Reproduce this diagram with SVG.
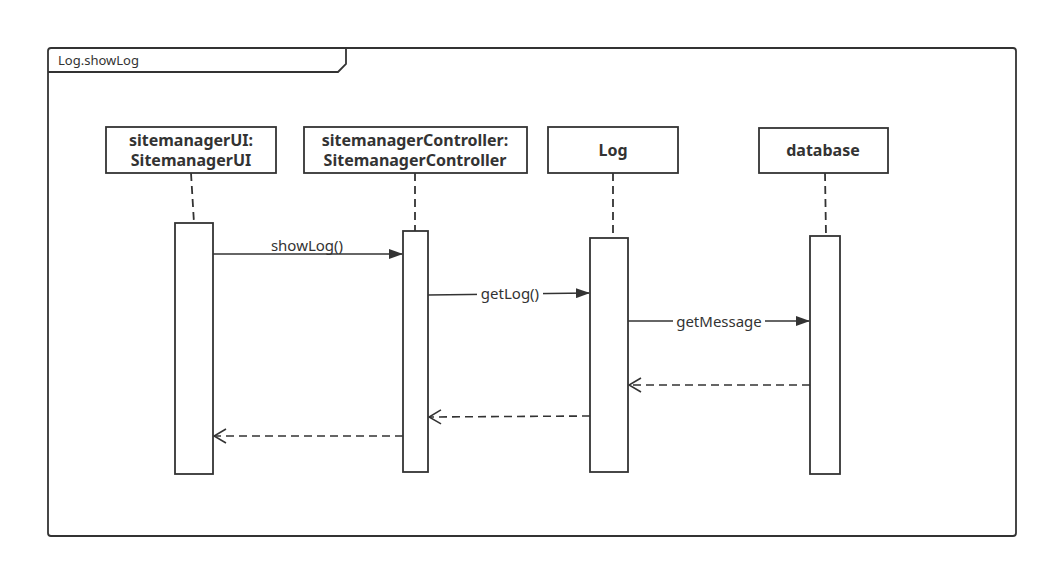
<svg xmlns="http://www.w3.org/2000/svg" width="1048" height="568" viewBox="0 0 1048 568">
  <defs>
    <style>
      .frame { fill: #ffffff; stroke: #333333; stroke-width: 1.8; }
      .box { fill: #ffffff; stroke: #333333; stroke-width: 1.8; }
      .life { fill: none; stroke: #333333; stroke-width: 1.8; stroke-dasharray: 8 5; }
      .act { fill: #ffffff; stroke: #333333; stroke-width: 1.8; }
      .msg { fill: none; stroke: #333333; stroke-width: 1.6; }
      .ret { fill: none; stroke: #333333; stroke-width: 1.6; stroke-dasharray: 8 5; }
      .title { font-family: "Noto Sans", "Open Sans", sans-serif; font-size: 16px; font-weight: bold; fill: #333333; text-anchor: middle; }
      .label { font-family: "Noto Sans", "Open Sans", sans-serif; font-size: 15px; fill: #333333; text-anchor: middle; }
      .bg { fill: #ffffff; }
    </style>
    <marker id="filled" markerWidth="14" markerHeight="10" refX="13" refY="5" orient="auto" markerUnits="userSpaceOnUse">
      <path d="M0,0 L14,5 L0,10 Z" fill="#333333"/>
    </marker>
    <marker id="open" markerWidth="14" markerHeight="16" refX="13" refY="8" orient="auto" markerUnits="userSpaceOnUse">
      <path d="M1,1 L13,8 L1,15" fill="none" stroke="#333333" stroke-width="1.6"/>
    </marker>
  </defs>

  <rect width="1048" height="568" fill="#ffffff"/>

  <!-- sequence frame -->
  <g id="frame">
    <rect class="frame" x="48" y="48" width="968" height="488" rx="3"/>
    <path d="M48,72 L338,72 L346,64 L346,48" fill="none" stroke="#333333" stroke-width="1.8"/>
    <text x="58" y="65" font-family="Noto Sans, Open Sans, sans-serif" font-size="13" fill="#333333">Log.showLog</text>
  </g>

  <!-- participants -->
  <g id="sitemanagerUI">
    <line class="life" x1="191" y1="173" x2="194" y2="223"/>
    <rect class="box" x="106" y="127" width="170" height="46"/>
    <text class="title" x="191" y="146">sitemanagerUI:</text>
    <text class="title" x="191" y="166">SitemanagerUI</text>
    <rect class="act" x="175" y="223" width="38" height="251"/>
  </g>

  <g id="sitemanagerController">
    <line class="life" x1="415" y1="173" x2="415" y2="231"/>
    <rect class="box" x="304" y="127" width="223" height="46"/>
    <text class="title" x="415" y="146">sitemanagerController:</text>
    <text class="title" x="415" y="166">SitemanagerController</text>
    <rect class="act" x="403" y="231" width="25" height="241"/>
  </g>

  <g id="Log">
    <line class="life" x1="613" y1="173" x2="613" y2="238"/>
    <rect class="box" x="548" y="127" width="130" height="46"/>
    <text class="title" x="613" y="156">Log</text>
    <rect class="act" x="590" y="238" width="38" height="234"/>
  </g>

  <g id="database">
    <line class="life" x1="825" y1="173" x2="826" y2="236"/>
    <rect class="box" x="759" y="128" width="129" height="45"/>
    <text class="title" x="823" y="156">database</text>
    <rect class="act" x="810" y="236" width="30" height="238"/>
  </g>

  <!-- messages -->
  <g id="connectors">
    <line class="msg" x1="213" y1="254" x2="402" y2="254" marker-end="url(#filled)"/>
    <rect class="bg" x="269" y="238" width="76" height="14"/>
    <text class="label" x="307" y="251">showLog()</text>

    <line class="msg" x1="428" y1="295" x2="589" y2="293" marker-end="url(#filled)"/>
    <rect class="bg" x="477" y="286" width="66" height="14"/>
    <text class="label" x="510" y="299">getLog()</text>

    <line class="msg" x1="628" y1="321" x2="809" y2="321" marker-end="url(#filled)"/>
    <rect class="bg" x="673" y="313" width="92" height="14"/>
    <text class="label" x="719" y="327">getMessage</text>

    <line class="ret" x1="810" y1="385" x2="629" y2="385" marker-end="url(#open)"/>
    <line class="ret" x1="590" y1="416" x2="429" y2="417" marker-end="url(#open)"/>
    <line class="ret" x1="403" y1="436" x2="214" y2="436" marker-end="url(#open)"/>
  </g>
</svg>
